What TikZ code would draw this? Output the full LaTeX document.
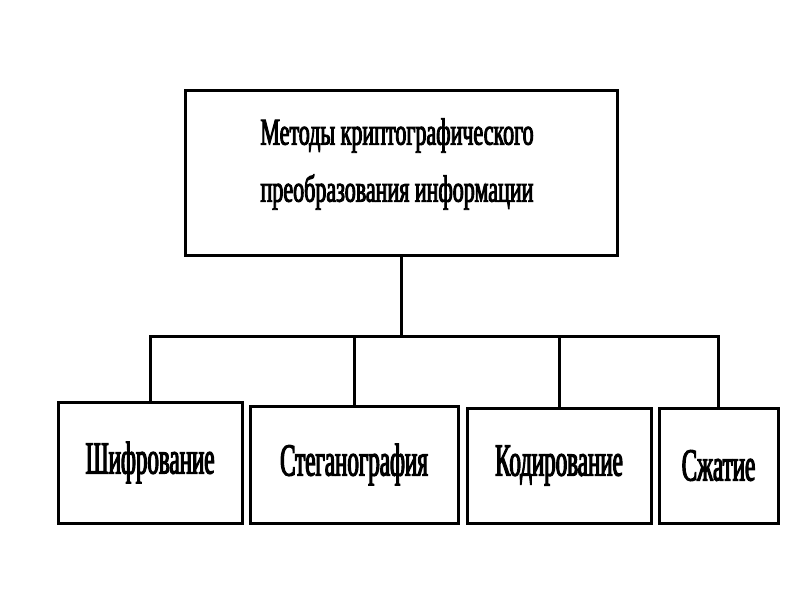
\documentclass[tikz,border=0pt]{standalone}
\usepackage{fontspec}
\setmainfont{Liberation Serif}
\newfontfamily\topfont{Liberation Serif}[FakeStretch=0.58,FakeBold=2.5]
\newfontfamily\boxfont{Liberation Serif}[FakeStretch=0.5,FakeBold=2.5]
\begin{document}
\begin{tikzpicture}[x=1pt,y=-1pt,
  box/.style={draw,line width=3pt,inner sep=0pt,font=\boxfont\fontsize{46}{46}\selectfont},
  wire/.style={line width=3pt}]
\useasboundingbox (0,0) rectangle (800,600);
\node[box,minimum width=432pt,minimum height=165pt] (top) at (401,172.5) {};
\node[align=center,font=\topfont\fontsize{38}{57}\selectfont] (toptext) at (397,164)
  {Методы криптографического\\преобразования информации};
\node[box,minimum width=184pt,minimum height=121pt] (b1) at (150,462.5) {Шифрование};
\node[box,minimum width=208pt,minimum height=117pt] (b2) at (354,464.5) {Стеганография};
\node[box,minimum width=184pt,minimum height=115pt] (b3) at (559,465.5) {Кодирование};
\node[box,minimum width=119pt,minimum height=115pt] (b4) at (718.5,465.5) {Сжатие};
\coordinate (bus) at (404,336);
\draw[wire] (top.south) -- (top.south |- bus);
\draw[wire] (b1.north) -- (b1.north |- bus) -- (b4.north |- bus) -- (b4.north);
\draw[wire] (b2.north) -- (b2.north |- bus);
\draw[wire] (b3.north) -- (b3.north |- bus);
\end{tikzpicture}
\end{document}
